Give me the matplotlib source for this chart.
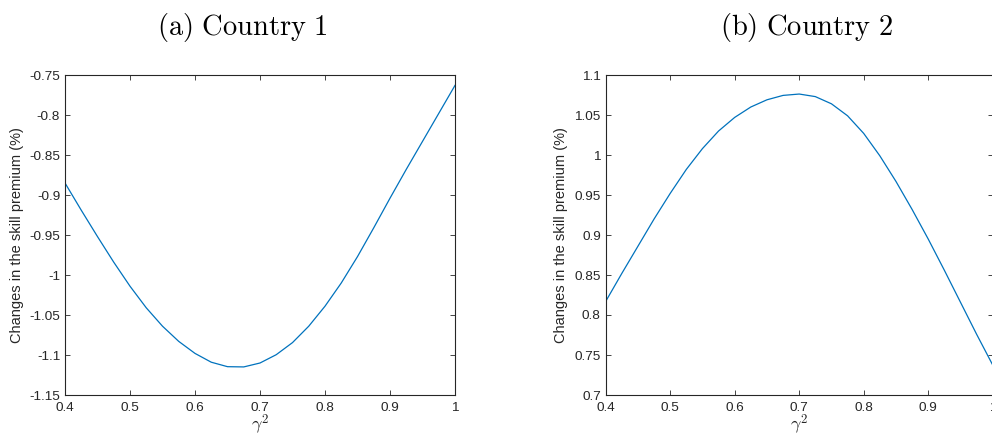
import numpy as np
import matplotlib
matplotlib.use("Agg")
import matplotlib.pyplot as plt

# values (gamma^2 grid of 0.025)
gamma2 = [0.4, 0.425, 0.45, 0.475, 0.5, 0.525, 0.55, 0.575, 0.6, 0.625, 0.65, 0.675, 0.7,
          0.725, 0.75, 0.775, 0.8, 0.825, 0.85, 0.875, 0.9, 0.925, 0.95, 0.975, 1.0]
premium_c1 = [-0.885, -0.919, -0.952, -0.984, -1.014, -1.041, -1.064, -1.083, -1.098, -1.109,
              -1.1146, -1.1149, -1.110, -1.0996, -1.0845, -1.064, -1.039, -1.010, -0.977,
              -0.941, -0.904, -0.868, -0.833, -0.798, -0.763]
premium_c2 = [0.817, 0.852, 0.886, 0.920, 0.952, 0.982, 1.008, 1.030, 1.047, 1.060, 1.069,
              1.0745, 1.0762, 1.073, 1.064, 1.049, 1.027, 0.999, 0.967, 0.932, 0.895, 0.856,
              0.816, 0.776, 0.7375]

titles = ["(a) Country 1", "(b) Country 2"]
ylims = [(-1.15, -0.75), (0.7, 1.1)]
xticks = [0.4, 0.5, 0.6, 0.7, 0.8, 0.9, 1.0]

plt.rcParams['font.family'] = ['Liberation Sans', 'DejaVu Sans']
plt.rcParams['mathtext.fontset'] = 'cm'
plt.rcParams['axes.unicode_minus'] = False

W, H = 992, 438
fig = plt.figure(figsize=(W/100, H/100), dpi=100)

grey = '#262626'
boxes = [(65, 390), (605.7, 387)]   # left px, width px
ylab_right = [24, 568]               # px where the rotated y label ends
title_x = [242.5, 806.7]             # subcaption centres, px
top, bot = 75, 395

series = [premium_c1, premium_c2]

for i, (y, (l, w)) in enumerate(zip(series, boxes)):
    ax = fig.add_axes([l/W, (H-bot)/H, w/W, (bot-top)/H])
    ax.plot(gamma2, y, color='#0072BD', lw=0.9)
    ax.set_xlim(0.4, 1.0)
    ax.set_ylim(*ylims[i])
    ax.set_xticks(xticks)
    ax.set_xticklabels(['%g' % t for t in xticks])
    yt = np.round(np.arange(ylims[i][0], ylims[i][1] + 0.001, 0.05), 2)
    ax.set_yticks(yt)
    ax.set_yticklabels(['%g' % t for t in yt])
    ax.tick_params(direction='in', length=3.6, width=0.6, colors=grey,
                   labelsize=9.7, top=True, right=True)
    ax.tick_params(axis='x', pad=5)
    ax.tick_params(axis='y', pad=3.5)
    for s in ax.spines.values():
        s.set_color(grey)
        s.set_linewidth(0.8)
    ax.set_ylabel("Changes in the skill premium (%)", fontsize=10.5, color=grey)
    ax.yaxis.set_label_coords((ylab_right[i] - l)/w, 0.5)
    ax.set_xlabel(r'$\gamma^2$', fontsize=13, color=grey, va='center')
    ax.xaxis.set_label_coords(0.5, -0.095)
    fig.text(title_x[i]/W, 1 - 27/H, r'$\mathrm{%s}$' % titles[i].replace(' ', r'\ '),
             ha='center', va='center', fontsize=20.5)

fig.savefig('out.png', dpi=100)
